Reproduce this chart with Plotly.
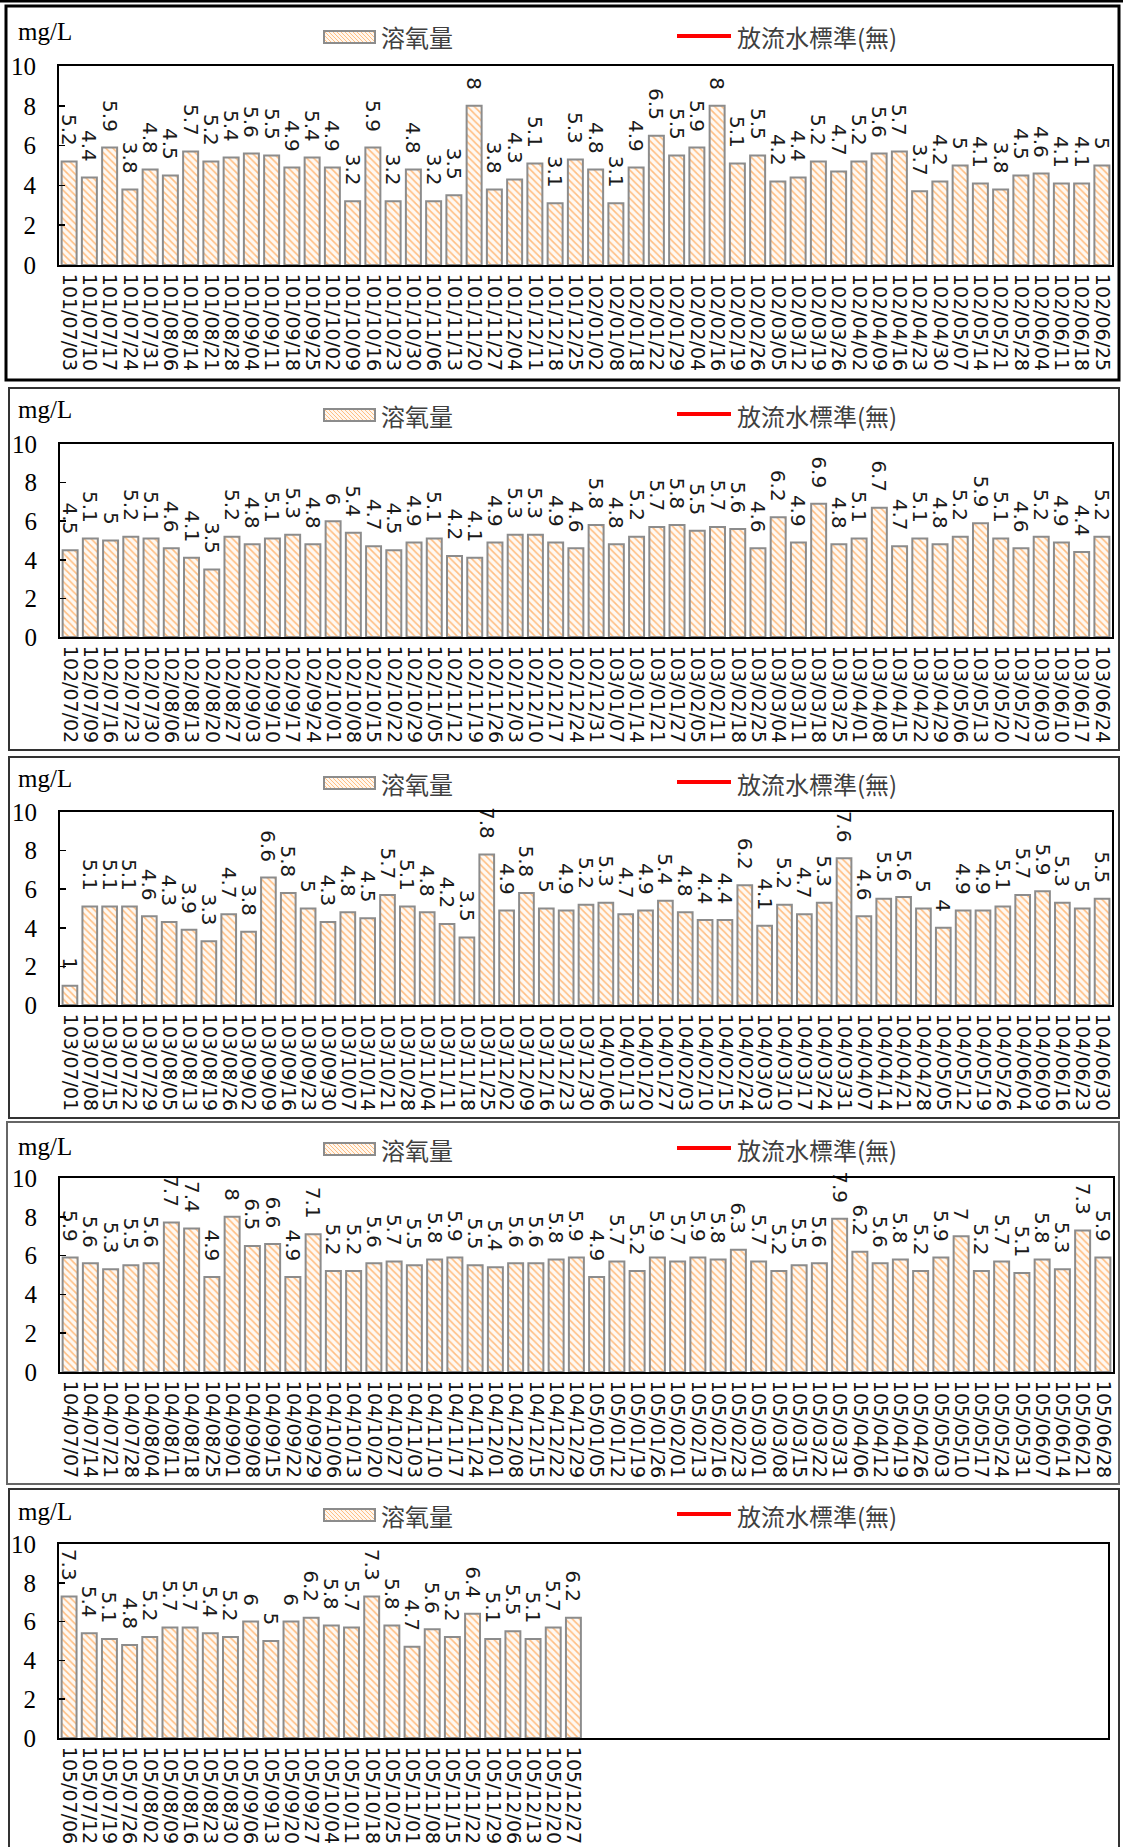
import plotly.graph_objects as go

# ---------------- data ----------------
p1_dates = ["101/07/03","101/07/10","101/07/17","101/07/24","101/07/31","101/08/06","101/08/14","101/08/21","101/08/28",
            "101/09/04","101/09/11","101/09/18","101/09/25","101/10/02","101/10/09","101/10/16","101/10/23","101/10/30",
            "101/11/06","101/11/13","101/11/20","101/11/27","101/12/04","101/12/11","101/12/18","101/12/25",
            "102/01/02","102/01/08","102/01/18","102/01/22","102/01/29","102/02/04","102/02/16","102/02/19","102/02/26",
            "102/03/05","102/03/12","102/03/19","102/03/26","102/04/02","102/04/09","102/04/16","102/04/23","102/04/30",
            "102/05/07","102/05/14","102/05/21","102/05/28","102/06/04","102/06/11","102/06/18","102/06/25"]
p1_vals = [5.2,4.4,5.9,3.8,4.8,4.5,5.7,5.2,5.4,5.6,5.5,4.9,5.4,4.9,3.2,5.9,3.2,4.8,3.2,3.5,8,3.8,4.3,5.1,3.1,5.3,
           4.8,3.1,4.9,6.5,5.5,5.9,8,5.1,5.5,4.2,4.4,5.2,4.7,5.2,5.6,5.7,3.7,4.2,5,4.1,3.8,4.5,4.6,4.1,4.1,5]

p2_dates = ["102/07/02","102/07/09","102/07/16","102/07/23","102/07/30","102/08/06","102/08/13","102/08/20","102/08/27",
            "102/09/03","102/09/10","102/09/17","102/09/24","102/10/01","102/10/08","102/10/15","102/10/22","102/10/29",
            "102/11/05","102/11/12","102/11/19","102/11/26","102/12/03","102/12/10","102/12/17","102/12/24","102/12/31",
            "103/01/07","103/01/14","103/01/21","103/01/27","103/02/05","103/02/11","103/02/18","103/02/25",
            "103/03/04","103/03/11","103/03/18","103/03/25","103/04/01","103/04/08","103/04/15","103/04/22","103/04/29",
            "103/05/06","103/05/13","103/05/20","103/05/27","103/06/03","103/06/10","103/06/17","103/06/24"]
p2_vals = [4.5,5.1,5,5.2,5.1,4.6,4.1,3.5,5.2,4.8,5.1,5.3,4.8,6,5.4,4.7,4.5,4.9,5.1,4.2,4.1,4.9,5.3,5.3,4.9,4.6,
           5.8,4.8,5.2,5.7,5.8,5.5,5.7,5.6,4.6,6.2,4.9,6.9,4.8,5.1,6.7,4.7,5.1,4.8,5.2,5.9,5.1,4.6,5.2,4.9,4.4,5.2]

p3_dates = ["103/07/01","103/07/08","103/07/15","103/07/22","103/07/29","103/08/05","103/08/13","103/08/19","103/08/26",
            "103/09/02","103/09/09","103/09/16","103/09/23","103/09/30","103/10/07","103/10/14","103/10/21","103/10/28",
            "103/11/04","103/11/11","103/11/18","103/11/25","103/12/02","103/12/09","103/12/16","103/12/23","103/12/30",
            "104/01/06","104/01/13","104/01/20","104/01/27","104/02/03","104/02/10","104/02/15","104/02/24",
            "104/03/03","104/03/10","104/03/17","104/03/24","104/03/31","104/04/07","104/04/14","104/04/21","104/04/28",
            "104/05/05","104/05/12","104/05/19","104/05/26","104/06/04","104/06/09","104/06/16","104/06/23","104/06/30"]
p3_vals = [1,5.1,5.1,5.1,4.6,4.3,3.9,3.3,4.7,3.8,6.6,5.8,5,4.3,4.8,4.5,5.7,5.1,4.8,4.2,3.5,7.8,4.9,5.8,5,4.9,5.2,
           5.3,4.7,4.9,5.4,4.8,4.4,4.4,6.2,4.1,5.2,4.7,5.3,7.6,4.6,5.5,5.6,5,4,4.9,4.9,5.1,5.7,5.9,5.3,5,5.5]

p4_dates = ["104/07/07","104/07/14","104/07/21","104/07/28","104/08/04","104/08/11","104/08/18","104/08/25",
            "104/09/01","104/09/08","104/09/15","104/09/22","104/09/29","104/10/06","104/10/13","104/10/20","104/10/27",
            "104/11/03","104/11/10","104/11/17","104/11/24","104/12/01","104/12/08","104/12/15","104/12/22","104/12/29",
            "105/01/05","105/01/12","105/01/19","105/01/26","105/02/01","105/02/13","105/02/16","105/02/23",
            "105/03/01","105/03/08","105/03/15","105/03/22","105/03/31","105/04/06","105/04/12","105/04/19","105/04/26",
            "105/05/03","105/05/10","105/05/17","105/05/24","105/05/31","105/06/07","105/06/14","105/06/21","105/06/28"]
p4_vals = [5.9,5.6,5.3,5.5,5.6,7.7,7.4,4.9,8,6.5,6.6,4.9,7.1,5.2,5.2,5.6,5.7,5.5,5.8,5.9,5.5,5.4,5.6,5.6,5.8,5.9,
           4.9,5.7,5.2,5.9,5.7,5.9,5.8,6.3,5.7,5.2,5.5,5.6,7.9,6.2,5.6,5.8,5.2,5.9,7,5.2,5.7,5.1,5.8,5.3,7.3,5.9]

p5_dates = ["105/07/06","105/07/12","105/07/19","105/07/26","105/08/02","105/08/09","105/08/16","105/08/23","105/08/30",
            "105/09/06","105/09/13","105/09/20","105/09/27","105/10/04","105/10/11","105/10/18","105/10/25",
            "105/11/01","105/11/08","105/11/15","105/11/22","105/11/29","105/12/06","105/12/13","105/12/20","105/12/27"]
p5_vals = [7.3,5.4,5.1,4.8,5.2,5.7,5.7,5.4,5.2,6,5,6,6.2,5.8,5.7,7.3,5.8,4.7,5.6,5.2,6.4,5.1,5.5,5.1,5.7,6.2]

series_name = "溶氧量"
standard_name = "放流水標準(無)"
unit_label = "mg/L"
y_ticks = [0, 2, 4, 6, 8, 10]

panels = [(p1_dates, p1_vals), (p2_dates, p2_vals), (p3_dates, p3_vals), (p4_dates, p4_vals), (p5_dates, p5_vals)]

# ---------------- layout geometry (pixels) ----------------
W, H = 1123, 1847
slots = [52, 52, 53, 52, 52]
plot_px = [  # left, right, top, bottom of the plotting area
    (59, 1112, 66, 265),
    (60, 1112, 444, 637),
    (60, 1112, 812, 1005),
    (60, 1113, 1178, 1372),
    (59, 1108, 1544, 1738),
]
panel_box = [  # x0, x1, y0, y1, colour, width
    (6, 1119, 6, 380, "#000000", 3),
    (9, 1119, 388, 750, "#333333", 2),
    (9, 1119, 757, 1118, "#333333", 2),
    (7, 1119, 1122, 1484, "#666666", 2),
    (9, 1119, 1489, 1860, "#333333", 2),
]
unit_y = [31, 410, 778, 1146, 1511]
legend_y = [37, 415, 783, 1149, 1515]

SERIF = "Liberation Serif, Times New Roman, serif"
SANS = "DejaVu Sans, sans-serif"
CJK = "Noto Sans CJK TC, Noto Sans CJK SC, sans-serif"


def px(x):
    return x / W


def py(y):
    return 1 - y / H


fig = go.Figure()

bar_marker = dict(
    color="#FFF3E6",
    line=dict(color="#8C8C8C", width=2),
    pattern=dict(shape="\\", fgcolor="#FFBE82", bgcolor="#FFF9F3", size=5, solidity=0.32),
)

layout_axes = {}
for i, (dates, vals) in enumerate(panels):
    k = "" if i == 0 else str(i + 1)
    l, r, t, b = plot_px[i]
    fig.add_trace(go.Bar(
        x=dates, y=vals, name=series_name,
        xaxis="x" + k, yaxis="y" + k,
        text=[f"{v:g}\u00a0\u00a0" for v in vals],
        textposition="outside", textangle=90, cliponaxis=False, constraintext="none",
        textfont=dict(family=SANS, size=20, color="#1a1a1a"),
        marker=bar_marker, showlegend=False, hoverinfo="skip",
    ))
    fig.add_trace(go.Scatter(
        x=dates, y=[None] * len(dates), name=standard_name, mode="lines",
        line=dict(color="#FF0000", width=4), xaxis="x" + k, yaxis="y" + k,
        showlegend=False, hoverinfo="skip",
    ))
    layout_axes["xaxis" + k] = dict(
        domain=[px(l), px(r)], anchor="y" + k, type="category",
        range=[-0.5, slots[i] - 0.5],
        tickmode="array", tickvals=dates, ticktext=dates, tickangle=90,
        tickfont=dict(family=SANS, size=19, color="#111111"),
        ticklabelstandoff=3,
        ticks="", showline=True, linecolor="black", linewidth=2, mirror=True,
        showgrid=False, zeroline=False, fixedrange=True, automargin=False,
    )
    layout_axes["yaxis" + k] = dict(
        domain=[py(b), py(t)], anchor="x" + k, range=[0, 10],
        tickmode="array", tickvals=y_ticks, ticks="inside", ticklen=6, tickwidth=1.5,
        tickcolor="black", tickfont=dict(family=SERIF, size=25, color="black"),
        ticklabelstandoff=16,
        showline=True, linecolor="black", linewidth=2, mirror=True,
        showgrid=False, zeroline=False, fixedrange=True, automargin=False,
    )

shapes = []
annotations = []

# double line at the very top
shapes.append(dict(type="line", xref="paper", yref="paper", x0=0, x1=1, y0=py(1), y1=py(1),
                   line=dict(color="black", width=3)))

for i in range(5):
    x0, x1, y0, y1, col, wd = panel_box[i]
    shapes.append(dict(type="rect", xref="paper", yref="paper", x0=px(x0), x1=px(x1), y0=py(y0), y1=py(y1),
                       line=dict(color=col, width=wd), fillcolor="rgba(0,0,0,0)", layer="below"))
    # unit label
    annotations.append(dict(text=unit_label, xref="paper", yref="paper", x=px(16), y=py(unit_y[i]),
                            xanchor="left", yanchor="middle", showarrow=False,
                            font=dict(family=SERIF, size=25, color="black")))
    ly = legend_y[i]
    # legend swatch for the bar series
    sx0, sx1, sy0, sy1 = 324, 375, ly - 6, ly + 6
    shapes.append(dict(type="rect", xref="paper", yref="paper", x0=px(sx0), x1=px(sx1), y0=py(sy1), y1=py(sy0),
                       fillcolor="#FFF7EE", line=dict(width=0)))
    hh = sy1 - sy0
    segs = []
    c = sx0 - hh
    while c < sx1:
        ax, ay = c, sy0
        bx, by = c + hh, sy1
        if ax < sx0:
            ay = sy0 + (sx0 - ax)
            ax = sx0
        if bx > sx1:
            by = sy1 - (bx - sx1)
            bx = sx1
        if bx > ax:
            segs.append(f"M{px(ax):.5f},{py(ay):.5f}L{px(bx):.5f},{py(by):.5f}")
        c += 4
    shapes.append(dict(type="path", xref="paper", yref="paper", path="".join(segs),
                       line=dict(color="#FFBE82", width=1)))
    shapes.append(dict(type="rect", xref="paper", yref="paper", x0=px(sx0), x1=px(sx1), y0=py(sy1), y1=py(sy0),
                       fillcolor="rgba(0,0,0,0)", line=dict(color="#8C8C8C", width=2)))
    annotations.append(dict(text=series_name, xref="paper", yref="paper", x=px(379), y=py(ly),
                            xanchor="left", yanchor="middle", showarrow=False,
                            font=dict(family=CJK, size=24, color="#404040")))
    # legend for the standard line
    shapes.append(dict(type="line", xref="paper", yref="paper", x0=px(677), x1=px(731), y0=py(ly - 1), y1=py(ly - 1),
                       line=dict(color="#FF0000", width=4)))
    annotations.append(dict(text=standard_name, xref="paper", yref="paper", x=px(735), y=py(ly),
                            xanchor="left", yanchor="middle", showarrow=False,
                            font=dict(family=CJK, size=24, color="#404040")))

fig.update_layout(
    template="none",
    width=W, height=H,
    margin=dict(l=0, r=0, t=0, b=0, pad=0),
    paper_bgcolor="white", plot_bgcolor="white",
    bargap=0.26, showlegend=False,
    shapes=shapes, annotations=annotations,
    **layout_axes,
)

fig.write_html("out.html", config={"displayModeBar": False, "staticPlot": True},
               post_script="document.body.style.margin='0px';document.body.style.overflow='hidden';")
